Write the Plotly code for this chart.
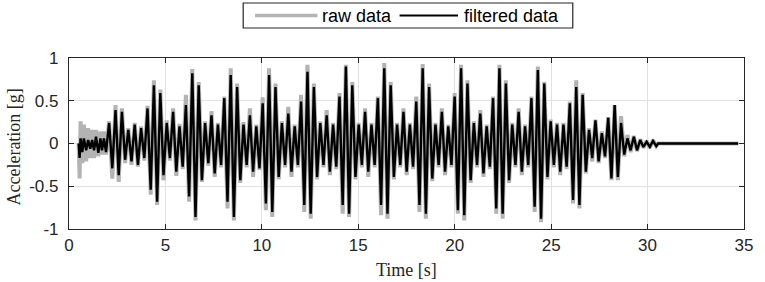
import plotly.graph_objects as go

# ---------------- data ----------------
# onset: small noisy oscillation, explicit sample times [s]
onset_t = [0.50, 0.55, 0.60, 0.69, 0.77, 0.89, 0.99, 1.10, 1.20, 1.30, 1.40, 1.52, 1.63, 1.71, 1.81, 1.92]
onset_filtered = [0.0, -0.17, 0.06, -0.10, 0.06, -0.08, 0.04, -0.06, 0.04, -0.08, 0.08, -0.11, 0.06, -0.08, 0.06, -0.10]
onset_raw = [0.0, -0.41, 0.26, -0.23, 0.22, -0.21, 0.18, -0.17, 0.16, -0.17, 0.16, -0.15, 0.14, -0.13, 0.14, -0.13]

# main shaking: successive peaks/troughs, one every half period
main_start_s = 2.08
main_step_s = 0.1659
main_filtered = [
    0.24, -0.29, 0.39, -0.37, 0.37, -0.19, 0.16, -0.21, 0.22, -0.25, 0.18, -0.17, 0.41, -0.54,
    0.68, -0.68, 0.59, -0.37, 0.24, -0.17, 0.37, -0.33, 0.20, -0.27, 0.45, -0.62,
    0.82, -0.86, 0.68, -0.43, 0.24, -0.23, 0.33, -0.35, 0.22, -0.25, 0.53, -0.68,
    0.80, -0.86, 0.66, -0.43, 0.22, -0.25, 0.33, -0.33, 0.20, -0.29, 0.47, -0.70,
    0.80, -0.80, 0.66, -0.39, 0.24, -0.25, 0.35, -0.33, 0.20, -0.25, 0.49, -0.72,
    0.84, -0.82, 0.66, -0.39, 0.24, -0.25, 0.33, -0.33, 0.22, -0.27, 0.55, -0.72,
    0.90, -0.82, 0.68, -0.39, 0.22, -0.25, 0.37, -0.33, 0.22, -0.25, 0.53, -0.72,
    0.88, -0.82, 0.68, -0.39, 0.22, -0.25, 0.37, -0.33, 0.22, -0.27, 0.49, -0.72,
    0.88, -0.82, 0.66, -0.41, 0.22, -0.25, 0.37, -0.33, 0.20, -0.25, 0.55, -0.78,
    0.88, -0.84, 0.70, -0.43, 0.24, -0.25, 0.35, -0.35, 0.20, -0.27, 0.53, -0.76,
    0.88, -0.82, 0.70, -0.43, 0.22, -0.25, 0.37, -0.33, 0.20, -0.25, 0.53, -0.74,
    0.86, -0.88, 0.70, -0.39, 0.26, -0.25, 0.22, -0.33, 0.22, -0.27, 0.47, -0.66,
    0.66, -0.72, 0.57, -0.33, 0.16, -0.17, 0.27, -0.21, 0.12, -0.15, 0.30, -0.41,
    0.45, -0.39, 0.24, -0.13, 0.06, -0.08, 0.08, -0.08, 0.04, -0.04, 0.02, -0.04, 0.03, -0.03,
]
main_raw = [
    0.26, -0.41, 0.45, -0.45, 0.41, -0.23, 0.18, -0.25, 0.24, -0.27, 0.20, -0.20, 0.44, -0.60,
    0.74, -0.72, 0.63, -0.43, 0.27, -0.20, 0.41, -0.38, 0.23, -0.30, 0.57, -0.68,
    0.87, -0.90, 0.72, -0.45, 0.26, -0.26, 0.38, -0.39, 0.24, -0.28, 0.55, -0.76,
    0.88, -0.90, 0.70, -0.46, 0.25, -0.28, 0.41, -0.39, 0.22, -0.31, 0.54, -0.78,
    0.88, -0.86, 0.70, -0.42, 0.26, -0.28, 0.43, -0.39, 0.22, -0.28, 0.57, -0.80,
    0.92, -0.88, 0.70, -0.42, 0.26, -0.28, 0.39, -0.37, 0.24, -0.30, 0.59, -0.82,
    0.92, -0.86, 0.72, -0.42, 0.24, -0.28, 0.41, -0.39, 0.24, -0.28, 0.55, -0.84,
    0.94, -0.88, 0.72, -0.42, 0.24, -0.28, 0.41, -0.37, 0.24, -0.30, 0.55, -0.80,
    0.93, -0.88, 0.70, -0.44, 0.24, -0.28, 0.41, -0.37, 0.22, -0.28, 0.59, -0.82,
    0.92, -0.90, 0.74, -0.46, 0.26, -0.28, 0.39, -0.39, 0.22, -0.30, 0.55, -0.82,
    0.92, -0.88, 0.74, -0.46, 0.24, -0.28, 0.41, -0.37, 0.22, -0.28, 0.55, -0.80,
    0.90, -0.92, 0.72, -0.42, 0.28, -0.28, 0.24, -0.37, 0.24, -0.30, 0.49, -0.70,
    0.74, -0.76, 0.59, -0.35, 0.18, -0.21, 0.28, -0.23, 0.14, -0.17, 0.31, -0.43,
    0.45, -0.43, 0.32, -0.15, 0.10, -0.10, 0.09, -0.09, 0.05, -0.05, 0.03, -0.05, 0.04, -0.03,
]

# quiet tail after the shaking
tail_t = [30.55, 34.70]
tail_filtered = [0.0, 0.0]
tail_raw = [0.0, 0.0]

x_ticks = [0, 5, 10, 15, 20, 25, 30, 35]
x_tick_labels = ["0", "5", "10", "15", "20", "25", "30", "35"]
y_ticks = [-1, -0.5, 0, 0.5, 1]
y_tick_labels = ["-1", "-0.5", "0", "0.5", "1"]

series_names = ["raw data", "filtered data"]

# ---------------- assemble ----------------
main_t = [main_start_s + i * main_step_s for i in range(len(main_filtered))]
t_all = onset_t + main_t + tail_t
raw_all = onset_raw + main_raw + tail_raw
filt_all = onset_filtered + main_filtered + tail_filtered

GRAY = "#b3b3b3"
INK = "#262626"
SANS = "Liberation Sans, Arial, sans-serif"
SERIF = "Liberation Serif, Times New Roman, serif"

fig = go.Figure()
fig.add_trace(go.Scatter(x=t_all, y=raw_all, mode="lines", name=series_names[0],
                         line=dict(color=GRAY, width=4), showlegend=False))
fig.add_trace(go.Scatter(x=t_all, y=filt_all, mode="lines", name=series_names[1],
                         line=dict(color="#000000", width=2.4), showlegend=False))

axis_common = dict(ticks="inside", ticklen=5, tickcolor=INK, tickwidth=1,
                   showline=True, linecolor=INK, linewidth=1.2, mirror="ticks",
                   showgrid=True, gridcolor="#e2e2e2", gridwidth=1, zeroline=False,
                   tickfont=dict(family=SANS, size=17, color=INK))
fig.update_xaxes(range=[0, 35], tickvals=x_ticks, ticktext=x_tick_labels, **axis_common)
fig.update_yaxes(range=[-1, 1], tickvals=y_ticks, ticktext=y_tick_labels,
                 ticklabelstandoff=6, **axis_common)

# custom legend (MATLAB style, long line samples)
L, R, T, B = 69, 751, 58, 229
W, H = R - L, B - T
def px(xp):
    return (xp - L) / W
def py(yp):
    return (B - yp) / H

shapes = [
    dict(type="rect", xref="paper", yref="paper", x0=px(245), x1=px(578), y0=py(28), y1=py(3),
         line=dict(color=INK, width=1.2), fillcolor="white", layer="above"),
    dict(type="line", xref="paper", yref="paper", x0=px(257), x1=px(320), y0=py(15.5), y1=py(15.5),
         line=dict(color=GRAY, width=3.5), layer="above"),
    dict(type="line", xref="paper", yref="paper", x0=px(403), x1=px(462), y0=py(15.5), y1=py(15.5),
         line=dict(color="#000000", width=1.8), layer="above"),
]
annotations = [
    dict(text=series_names[0], xref="paper", yref="paper", x=px(323), y=py(15.5),
         xanchor="left", yanchor="middle", showarrow=False,
         font=dict(family=SANS, size=18, color="#000000")),
    dict(text=series_names[1], xref="paper", yref="paper", x=px(466), y=py(15.5),
         xanchor="left", yanchor="middle", showarrow=False,
         font=dict(family=SANS, size=18, color="#000000")),
    dict(text="Time [s]", xref="paper", yref="paper", x=px(410), y=py(270),
         xanchor="center", yanchor="middle", showarrow=False,
         font=dict(family=SERIF, size=18, color=INK)),
    dict(text="Acceleration [g]", xref="paper", yref="paper", x=px(13), y=py(147),
         xanchor="center", yanchor="middle", showarrow=False, textangle=-90,
         font=dict(family=SERIF, size=18, color=INK)),
]

fig.update_layout(width=765, height=282, margin=dict(l=L, r=765 - R, t=T, b=282 - B),
                  paper_bgcolor="white", plot_bgcolor="white",
                  shapes=shapes, annotations=annotations, showlegend=False)

fig.write_html("out.html", config={"displayModeBar": False},
               post_script="document.body.style.margin='0px';document.body.style.overflow='hidden';")
